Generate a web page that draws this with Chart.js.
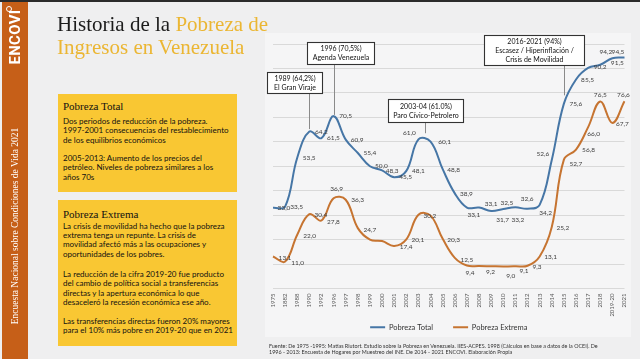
<!DOCTYPE html>
<html><head><meta charset="utf-8">
<script src="https://cdn.jsdelivr.net/npm/chart.js@4.4.0/dist/chart.umd.min.js"></script>
<style>
html,body{margin:0;padding:0;}
body{width:640px;height:359px;overflow:hidden;background:#efeff0;position:relative;font-family:Lato,sans-serif;}
#topbar{position:absolute;left:0;top:0;width:640px;height:2px;background:#2b2b2b;}
#strip{position:absolute;left:2px;top:0;width:26px;height:359px;background:#c65f18;}
.vert{position:absolute;white-space:nowrap;color:#fff;transform:translate(-50%,-50%) rotate(-90deg);}
#encovi{left:15px;top:37px;font-family:Roboto,sans-serif;font-weight:700;font-size:15px;line-height:15px;letter-spacing:0.3px;}
#ring{position:absolute;left:6px;top:6px;width:4px;height:4px;border:1.4px solid #fff;border-radius:50%;}
#encuesta{left:15px;top:226px;font-family:'Liberation Serif',serif;font-size:9.5px;line-height:10px;}
#panel{position:absolute;left:265px;top:33px;width:366px;height:304px;background:#f5f5f6;}
#title{position:absolute;left:57px;top:13px;font-family:'Liberation Serif',serif;font-size:21px;line-height:23.3px;color:#1b1b1b;white-space:nowrap;}
.gold{color:#ebb633;}
.box{position:absolute;left:58px;width:179px;background:#f9c733;}
.bt{position:absolute;left:5px;font-family:'Liberation Serif',serif;font-size:11px;line-height:12px;color:#111;white-space:nowrap;}
.bp{position:absolute;left:5px;font-size:8px;line-height:9.3px;color:#111;white-space:nowrap;}
#src{position:absolute;left:269px;top:342.5px;font-size:5.4px;line-height:6px;color:#333;white-space:nowrap;}
canvas{position:absolute;left:0;top:0;}
</style></head>
<body>
<div id="panel"></div>
<div id="strip"></div>
<div id="topbar"></div>
<canvas id="c" width="640" height="359"></canvas>
<div id="encovi" class="vert">ENCOVI</div>
<div id="ring"></div>
<div id="encuesta" class="vert">Encuesta Nacional sobre Condiciones de Vida 2021</div>
<div id="title">Historia de la <span class="gold">Pobreza de</span><br><span class="gold">Ingresos en Venezuela</span></div>

<div class="box" style="top:94px;height:98px;">
  <div class="bt" style="top:5.5px;">Pobreza Total</div>
  <div class="bp" style="top:23px;">Dos periodos de reducción de la pobreza.<br>1997-2001 consecuencias del restablecimiento<br>de los equilibrios económicos</div>
  <div class="bp" style="top:60.2px;">2005-2013: Aumento de los precios del<br>petróleo. Niveles de pobreza similares a los<br>años 70s</div>
</div>
<div class="box" style="top:200px;height:146px;">
  <div class="bt" style="top:7.8px;">Pobreza Extrema</div>
  <div class="bp" style="top:21.9px;">La crisis de movilidad ha hecho que la pobreza<br>extrema tenga un repunte. La crisis de<br>movilidad afectó más a las ocupaciones y<br>oportunidades de los pobres.</div>
  <div class="bp" style="top:70.2px;">La reducción de la cifra 2019-20 fue producto<br>del cambio de política social a transferencias<br>directas y la apertura económica lo que<br>desaceleró la recesión económica ese año.</div>
  <div class="bp" style="top:116.5px;">Las transferencias directas fueron 20% mayores<br>para el 10% más pobre en 2019-20 que en 2021</div>
</div>
<div id="src">Fuente: De 1975 -1995: Matias Riutort. Estudio sobre la Pobreza en Venezuela. IIES-ACPES. 1998 (Cálculos en base a datos de la OCEI). De<br>1996 - 2013: Encuesta de Hogares por Muestreo del INE. De 2014 - 2021 ENCOVI. Elaboración Propia</div>

<script>
// ---- data ----
const categories = ['1975','1882','1988','1990','1992','1996','1997','1998','1999','2000','2001','2002','2003','2004','2005','2006','2007','2008','2009','2010','2011','2012','2013','2014','2015','2016','2017','2018','2019-20','2021'];
const pobrezaTotal = [33.0,33.5,53.5,64.2,61.5,70.5,60.9,55.4,50.0,48.3,45.5,48.1,61.0,60.1,48.8,38.9,33.1,33.1,31.7,32.5,33.2,32.6,34.2,52.6,75.6,85.5,90.2,91.5,94.2,94.5];
const pobrezaExtrema = [13.1,11.0,22.0,30.4,27.8,36.9,36.3,24.7,20.0,19.4,17.4,20.1,30.2,29.8,20.3,12.5,9.4,9.2,9.1,9.0,9.1,9.3,13.1,25.2,52.7,56.8,66.0,76.5,67.7,76.6];
const seriesNames = ['Pobreza Total','Pobreza Extrema'];
const yMin = 0, yMax = 100, yStep = 10;

// annotation texts (anchor = category index, tip = value where leader ends)
const notes = [
  {lines:['1989 (64,2%)','El Gran Viraje'], at:3, tip:65.2},
  {lines:['1996 (70,5%)','Agenda Venezuela'], at:5, tip:71.0},
  {lines:['2003-04 (61.0%)','Paro Cívico-Petrolero'], at:12.5, tip:63.5},
  {lines:['2016-2021 (94%)','Escasez / Hiperinflación /','Crisis de Movilidad'], at:24, tip:79.0}
];

// ---- layout / style (not data) ----
const noteBoxes = [
  {dx:-15, top:28, w:55, h:21},
  {dx:7, top:-2, w:67, h:22},
  {dx:1, top:55, w:75, h:23},
  {dx:-30, top:-9, w:100, h:30}
];
const R = [11.5,0];
const totalLabelPos = [[11,0],R,[12,0],[12,0],[12,0],[12,0],R,[12,0],R,[10,0],R,[12,0],[-9,-6],[14,0],[11,1],[11.5,1],[7,7],[12,-4],[11.5,9],[3.5,-6],[2.5,13],[-0.5,-10],[6,8],[-9,-6],[12,0],R,[12,-0.7],[17,-1.4],[-6.5,-6.3],[-6.5,-5.7]];
const extremaLabelPos = [[12,1.5],[12.5,1.5],[12.5,1.5],[11.5,0.5],[12,1.5],[3,-9],[12,0.5],[12,1.3],null,null,[12,1],[11.5,1],[11.5,1.4],null,[11,1.5],[12,2],[3,7],[11.5,6],null,[7.5,9],[8.5,5],[9.5,1.4],[11,0.7],[11,0.8],[12,4.6],[12.5,0],[5.5,7],[0,-6.3],[10,0.5],[-1,-6]];
const labelPos = [totalLabelPos, extremaLabelPos];
const fmt = v => v.toFixed(1).replace('.', ',');

const labelPlugin = {
  id:'vlabels',
  afterDatasetsDraw(chart){
    const ctx = chart.ctx;
    ctx.save();
    ctx.font = '6.5px Lato';
    ctx.fillStyle = '#404040';
    ctx.textAlign = 'center';
    ctx.textBaseline = 'middle';
    chart.data.datasets.forEach((ds, di) => {
      const meta = chart.getDatasetMeta(di);
      meta.data.forEach((pt, i) => {
        const p = labelPos[di][i];
        if (!p) return;
        ctx.fillText(fmt(ds.data[i]), pt.x + p[0], pt.y + p[1]);
      });
    });
    ctx.restore();
  }
};

const notePlugin = {
  id:'notes',
  afterDatasetsDraw(chart){
    const ctx = chart.ctx, xs = chart.scales.x, ys = chart.scales.y, top = chart.chartArea.top;
    ctx.save();
    notes.forEach((n, k) => {
      const b = noteBoxes[k];
      const ax = xs.getPixelForValue(n.at);
      const ty = ys.getPixelForValue(n.tip);
      const bx = Math.round(ax + b.dx - b.w/2) + 0.5;
      const by = Math.round(top + b.top) + 0.5;
      ctx.strokeStyle = '#8a8a8a'; ctx.lineWidth = 1;
      ctx.beginPath(); ctx.moveTo(Math.round(ax)+0.5, by + b.h); ctx.lineTo(Math.round(ax)+0.5, ty); ctx.stroke();
      ctx.fillStyle = '#ffffff'; ctx.fillRect(bx, by, b.w, b.h);
      ctx.strokeStyle = '#333333'; ctx.lineWidth = 1.1; ctx.strokeRect(bx, by, b.w, b.h);
      ctx.fillStyle = '#111'; ctx.font = '7px Lato'; ctx.textAlign = 'center'; ctx.textBaseline = 'middle';
      const lh = 9, cy = by + b.h/2 - (n.lines.length - 1) * lh / 2;
      n.lines.forEach((t, j) => ctx.fillText(t, bx + b.w/2, cy + j*lh));
    });
    ctx.restore();
  }
};

// let the rotated tick labels extend below the (short) axis box without being clipped
const unclipTicks = {
  id:'unclipTicks',
  afterLayout(chart){ const s = chart.scales.x; s.bottom = s.top + 34; }
};

new Chart(document.getElementById('c'), {
  type:'line',
  data:{
    labels:categories,
    datasets:[
      {label:seriesNames[0], data:pobrezaTotal, borderColor:'#4676a6', backgroundColor:'#4676a6', borderWidth:2, pointRadius:0, tension:0.4, fill:false},
      {label:seriesNames[1], data:pobrezaExtrema, borderColor:'#c67431', backgroundColor:'#c67431', borderWidth:2, pointRadius:0, tension:0.4, fill:false}
    ]
  },
  options:{
    responsive:false, animation:false, events:[],
    layout:{padding:{left:273, right:15.5, top:44, bottom:18}},
    scales:{
      x:{grid:{display:false, drawTicks:false}, border:{display:false},
         ticks:{font:{family:'Lato', size:6}, color:'#595959', minRotation:90, maxRotation:90, autoSkip:false, padding:5},
         afterFit(s){ s.height = 15; }},
      y:{min:yMin, max:yMax, ticks:{display:false, stepSize:yStep}, grid:{color:'#d9d9d9', drawTicks:false, lineWidth:1}, border:{display:false},
         afterFit(s){ s.width = 0; }}
    },
    plugins:{
      legend:{position:'bottom', labels:{usePointStyle:true, pointStyle:'line', pointStyleWidth:15, font:{family:'Lato', size:7.5}, color:'#333', padding:20}},
      tooltip:{enabled:false}
    }
  },
  plugins:[notePlugin, labelPlugin, unclipTicks]
});
</script>
</body></html>
